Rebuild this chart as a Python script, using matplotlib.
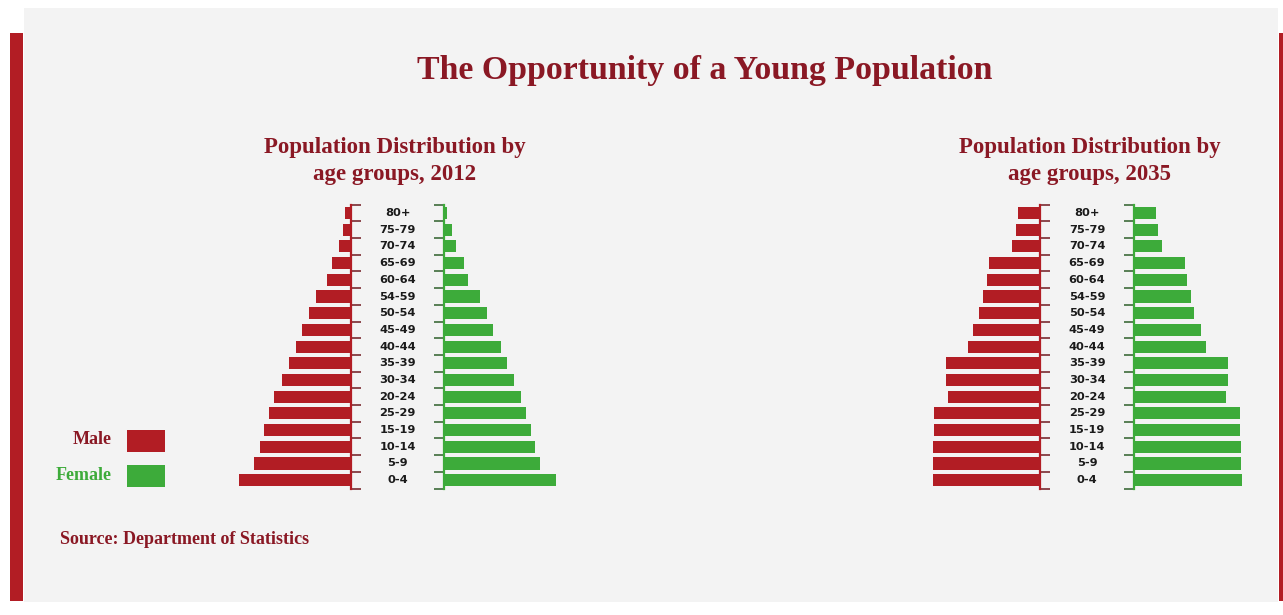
import matplotlib
matplotlib.use('Agg')
import matplotlib.pyplot as plt
from matplotlib.patches import Rectangle

# age group labels, top to bottom as printed on the chart
age_groups = ['80+', '75-79', '70-74', '65-69', '60-64', '54-59', '50-54', '45-49',
              '40-44', '35-39', '30-34', '20-24', '25-29', '15-19', '10-14', '5-9', '0-4']

# bar lengths (relative units)
male_2012 = [6, 8, 12, 19, 24, 35, 42, 49, 55, 62, 69, 77, 82, 87, 91, 97, 112]
female_2012 = [3, 8, 12, 20, 24, 36, 43, 49, 57, 63, 70, 77, 82, 87, 91, 96, 112]
male_2035 = [22, 24, 28, 51, 53, 57, 61, 67, 72, 94, 94, 92, 106, 106, 107, 107, 107]
female_2035 = [22, 24, 28, 51, 53, 57, 60, 67, 72, 94, 94, 92, 106, 106, 107, 107, 108]

RED = '#b21d24'
DARK_RED = '#8a1824'
GREEN = '#3dab3a'
BG = '#f3f3f3'

W, H = 1283, 615
fig = plt.figure(figsize=(W / 100, H / 100), dpi=100)
fig.patch.set_facecolor('white')


def px_axes(x0, y0, w, h):
    """Axes placed with pixel coords measured from top-left."""
    return fig.add_axes([x0 / W, 1 - (y0 + h) / H, w / W, h / H])


def fig_text(x, y, s, **kw):
    fig.text(x / W, 1 - y / H, s, **kw)


def fig_rect(x0, y0, w, h, color, z):
    fig.patches.append(Rectangle((x0 / W, 1 - (y0 + h) / H), w / W, h / H,
                                 transform=fig.transFigure, facecolor=color,
                                 edgecolor='none', zorder=z))


# background panel and red side bars
fig_rect(24, 8, 1254, 594, BG, -10)
fig_rect(10, 33, 13, 568, RED, -5)
fig_rect(1279, 33, 4, 568, RED, -5)

XMAX = 115
ROW_H = 16.7
TOP = 213 - ROW_H / 2
n = len(age_groups)
rows = list(range(n))
bounds = [i - 0.5 for i in range(n + 1)]


def pyramid(spine_m, spine_f, male, female):
    ax_m = px_axes(spine_m - XMAX, TOP, XMAX, ROW_H * n)
    ax_f = px_axes(spine_f, TOP, XMAX, ROW_H * n)
    ax_m.barh(rows, male, height=0.72, color=RED)
    ax_f.barh(rows, female, height=0.72, color=GREEN)
    ax_m.set_xlim(XMAX, 0)
    ax_f.set_xlim(0, XMAX)
    for ax, side, col, tcol in [(ax_m, 'right', RED, '#7a2a30'), (ax_f, 'left', GREEN, '#3d6b3a')]:
        ax.set_ylim(n - 0.5, -0.5)
        ax.patch.set_alpha(0)
        for s in ax.spines.values():
            s.set_visible(False)
        ax.spines[side].set_visible(True)
        ax.spines[side].set_color(col)
        ax.spines[side].set_linewidth(1.6)
        ax.set_xticks([])
        ax.set_yticks(bounds)
        ax.set_yticklabels([])
        ax.tick_params(axis='y', direction='out', length=7, width=1.2, color=tcol,
                       left=(side == 'left'), right=(side == 'right'))
    cx = (spine_m + spine_f) / 2
    for i, lab in enumerate(age_groups):
        fig_text(cx, TOP + ROW_H * (i + 0.5), lab, ha='center', va='center',
                 fontsize=8.2, fontweight='bold', color='#1a1a1a', family='DejaVu Sans')


pyramid(351, 444, male_2012, female_2012)
pyramid(1040, 1134, male_2035, female_2035)

serif = 'Liberation Serif'
fig_text(705, 71, 'The Opportunity of a Young Population', ha='center', va='center',
         fontsize=24.4, fontweight='bold', color=DARK_RED, family=serif)
fig_text(395, 161, 'Population Distribution by\nage groups, 2012', ha='center', va='center',
         fontsize=16.5, fontweight='bold', color=DARK_RED, family=serif, linespacing=1.4)
fig_text(1090, 161, 'Population Distribution by\nage groups, 2035', ha='center', va='center',
         fontsize=16.5, fontweight='bold', color=DARK_RED, family=serif, linespacing=1.4)

# legend
fig_text(112, 439, 'Male', ha='right', va='center', fontsize=13, fontweight='bold',
         color=DARK_RED, family=serif)
fig_text(112, 475, 'Female', ha='right', va='center', fontsize=13, fontweight='bold',
         color=GREEN, family=serif)
fig_rect(127, 430, 38, 22, RED, 2)
fig_rect(127, 465, 38, 22, GREEN, 2)

fig_text(60, 539, 'Source: Department of Statistics', ha='left', va='center', fontsize=13,
         fontweight='bold', color=DARK_RED, family=serif)

fig.savefig('out.png', dpi=100, facecolor=fig.get_facecolor())
